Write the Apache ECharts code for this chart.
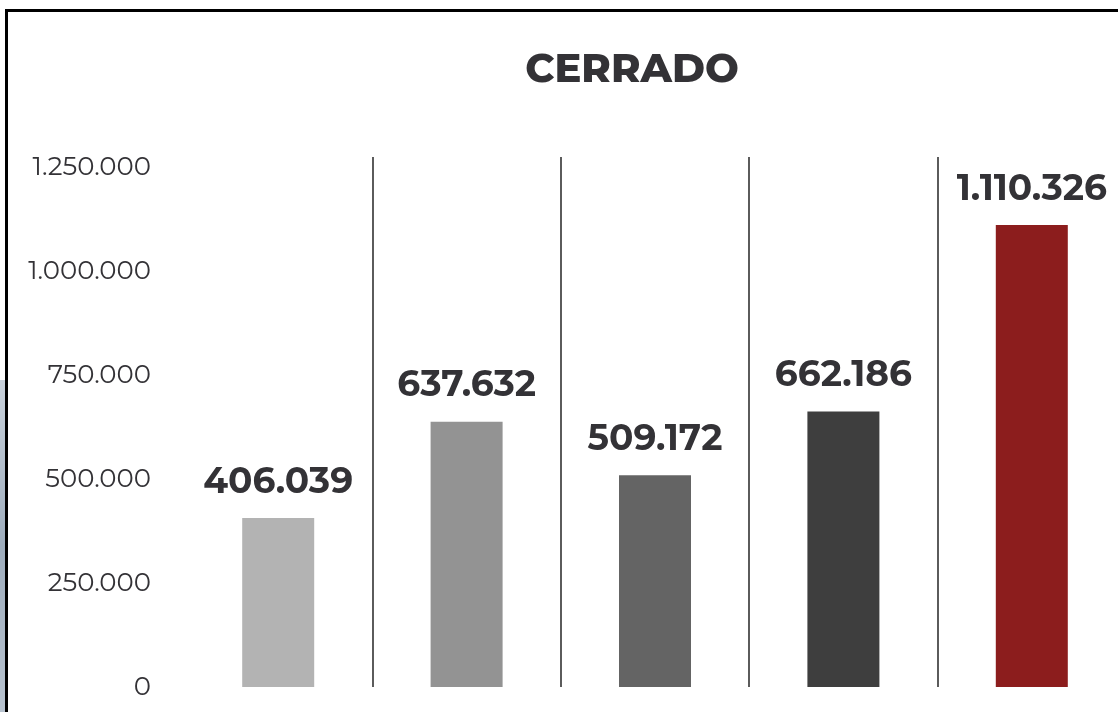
<!DOCTYPE html>
<html>
<head>
<meta charset="utf-8">
<script src="https://cdn.jsdelivr.net/npm/echarts@6/dist/echarts.min.js"></script>
<style>
  html, body { margin: 0; padding: 0; background: #fff; }
  #wrap { position: relative; width: 1118px; height: 712px; overflow: hidden; background: #fff; }
  #chart { position: absolute; left: 0; top: 0; width: 1140px; height: 712px; }
  #frame { position: absolute; left: 5px; top: 9px; width: 1200px; height: 800px; border-left: 3px solid #000; border-top: 3px solid #000; pointer-events: none; }
  #strip { position: absolute; left: 0; top: 380px; width: 5px; height: 332px; background: linear-gradient(180deg, #c9d2dc 0%, #9eadbd 50%, #b8c3cf 100%); }
</style>
</head>
<body>
<div id="wrap">
  <div id="chart"></div>
  <div id="strip"></div>
  <div id="frame"></div>
</div>
<script>
const title = 'CERRADO';
const categories = ['1', '2', '3', '4', '5'];
const values = [406039, 637632, 509172, 662186, 1110326];
const barColors = ['#b3b3b3', '#939393', '#646464', '#3e3e3e', '#8c1d1d'];
const yTicks = [0, 250000, 500000, 750000, 1000000, 1250000];

function fmt(v) {
  return String(Math.round(v)).replace(/\B(?=(\d{3})+(?!\d))/g, '.');
}

const FONT = 'Montserrat, "Open Sans", "Noto Sans", sans-serif';
const yMax = 1274000;

const chart = echarts.init(document.getElementById('chart'), null, { renderer: 'canvas' });
chart.setOption({
  backgroundColor: 'transparent',
  animation: false,
  title: {
    text: title,
    left: 627,
    top: 45,
    textAlign: 'center',
    textStyle: { fontFamily: FONT, fontSize: 40, fontWeight: 800, color: '#333236' }
  },
  grid: { left: 184, top: 157, bottom: 25, width: 942 },
  xAxis: {
    type: 'category',
    data: categories,
    axisLine: { show: false },
    axisTick: { show: false },
    axisLabel: { show: false },
    splitLine: {
      show: true,
      showMinLine: false,
      showMaxLine: false,
      lineStyle: { color: '#333', width: 1.6 }
    }
  },
  yAxis: {
    type: 'value',
    min: 0,
    max: yMax,
    interval: yTicks[1] - yTicks[0],
    splitLine: { show: false },
    axisLine: { show: false },
    axisTick: { show: false },
    axisLabel: {
      margin: 33,
      fontFamily: FONT,
      fontSize: 26,
      color: '#333236',
      showMaxLabel: false,
      formatter: function (v) { return yTicks.indexOf(v) >= 0 ? fmt(v) : ''; }
    }
  },
  series: [{
    type: 'bar',
    barWidth: 72,
    data: values.map(function (v, i) { return { value: v, itemStyle: { color: barColors[i] } }; }),
    label: {
      show: true,
      position: 'top',
      distance: 18,
      fontFamily: FONT,
      fontSize: 36,
      fontWeight: 'bold',
      color: '#333236',
      formatter: function (p) { return fmt(p.value); }
    }
  }]
});
</script>
</body>
</html>
